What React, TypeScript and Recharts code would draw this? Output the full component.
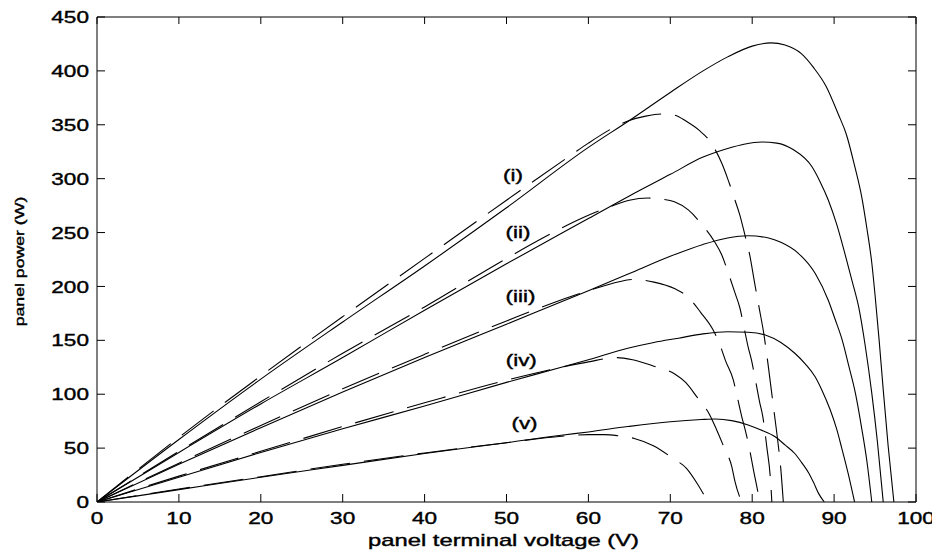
import React from 'react';
import { LineChart, Line, XAxis, YAxis, ReferenceDot, Label } from 'recharts';

// ---- data (panel terminal voltage V, panel power W) ----
const solidI: [number, number][] = [[0,0],[10,58],[20,114],[30,167],[40,219],[50,273],[60,329],[65,354],[70,380],[74,400],[77,413],[80,423],[82.3,426],[84,424],[86,416],[87.5,403],[89,386],[90.5,360],[91.5,341],[92.5,312],[93.4,282],[94,254],[94.6,222],[95,192],[95.5,150],[96,104],[96.6,52],[97.3,0]];
const solidII: [number, number][] = [[0,0],[10,46],[20,91],[30,134],[40,178],[50,221],[60,263],[65,284],[70,304],[74,320],[77,328],[79,332],[81.2,334],[83,333],[85,327],[87.3,311],[88.3,297],[89.3,280],[90.3,258],[91.3,231],[92.2,205],[93,181],[93.8,145],[94.6,101],[95.3,55],[96,0]];
const solidIII: [number, number][] = [[0,0],[10,35],[20,69],[30,102],[40,134],[50,165],[60,196],[65,212],[70,228],[74,239],[77,245],[79.5,247],[82,245],[83.5,241],[85.6,231],[87.7,212],[89.3,187],[90.1,170],[91,150],[91.8,126],[92.6,101],[93.4,67],[94,38],[94.6,0]];
const solidIV: [number, number][] = [[0,0],[10,23],[20,46],[30,68],[40,89],[50,111],[56.7,125],[60,132],[64.8,142.6],[68,148],[71,152],[74,156],[77,158],[79.5,157.5],[81.6,155],[83.5,148],[85.2,138],[86.5,128],[87.7,116],[88.5,104],[89.5,86],[90.3,68],[90.9,51],[91.7,27],[92.5,0]];
const solidV: [number, number][] = [[0,0],[10,11.5],[20,23],[30,34],[40,45],[50,55],[56.7,62],[60,65],[64.8,70],[70,74.5],[73.8,76.5],[75.5,77],[77.5,75.5],[79.5,71.5],[81,67],[82.8,60.5],[84,53],[85.2,45],[86,37],[86.9,27],[87.5,18],[88.1,8],[88.8,0]];

const dashedI: [number, number][] = [[0,0],[10,60],[20,117],[30,172],[40,226],[50,280],[57.9,322],[60,333],[63,347],[65,354],[67,358],[69,360],[70.5,359],[72,353],[73.5,345],[75,333],[76.3,314],[77.1,298],[77.9,280],[78.5,266],[79.1,248],[79.7,229],[80.3,203],[80.9,178],[81.4,157],[82,124],[82.6,88],[83.1,58],[83.5,30],[83.8,0]];
const dashedII: [number, number][] = [[0,0],[10,47],[20,93],[30,138],[40,181],[50,226],[54.2,244],[60,266],[63.2,275.5],[65,280],[67.3,282],[69,281],[70.5,278.5],[72.2,271],[73.8,258],[75.4,241.5],[76.3,229],[77.1,212],[77.9,194],[78.5,180],[79,162],[79.5,144],[79.9,132],[80.4,113],[80.9,93],[81.3,79],[81.8,50],[82.2,24],[82.4,0]];
const dashedIII: [number, number][] = [[0,0],[10,36],[20,71],[30,105],[40,137],[50,168],[55.4,184],[60,196],[63,203],[65.5,206.5],[68,204],[70.5,198],[72.2,190],[73.7,176],[75.2,160],[76,147],[76.8,130],[77.7,113],[78.1,100],[78.7,80],[79.3,62],[79.7,48],[80.2,28],[80.7,9],[80.9,0]];
const dashedIV: [number, number][] = [[0,0],[10,24],[20,47],[30,70],[40,92],[50,113],[56.7,125],[60,130],[63.5,134],[65.4,132],[68,126],[70.5,119],[71.9,110.7],[73.2,98],[74.8,81],[75.6,68],[76.6,50],[77.5,33],[77.9,19],[78.7,0]];
const dashedV: [number, number][] = [[0,0],[10,12],[20,23.5],[30,35],[40,45.5],[50,55],[56.7,61],[60,62.5],[62,62.5],[63.6,61.5],[65.6,59],[68,52],[70.3,40.5],[72,31],[73.3,17],[74.6,0]];

const xTicks = [0, 10, 20, 30, 40, 50, 60, 70, 80, 90, 100];
const yTicks = [0, 50, 100, 150, 200, 250, 300, 350, 400, 450];

const curveLabels = ['(i)', '(ii)', '(iii)', '(iv)', '(v)'];
const labelV = [50.8, 51.4, 51.7, 51.8, 52.2];
const labelP = [303, 250.7, 190.5, 131.7, 73];

const solidSeries = [solidI, solidII, solidIII, solidIV, solidV];
const dashedSeries = [dashedI, dashedII, dashedIII, dashedIV, dashedV];

const toPts = (arr: [number, number][]) => arr.map(([v, p]) => ({ v, p }));

const FONT = '"Liberation Sans", Arial, Helvetica, sans-serif';

function STxt({ x, y, sx, children, anchor = 'middle', size = 17, rotate = 0, dy = '0.36em' }: any) {
  return (
    <text
      transform={`translate(${x},${y}) rotate(${rotate}) scale(${sx},1)`}
      x={0}
      y={0}
      dy={dy}
      textAnchor={anchor}
      fontSize={size}
      fontFamily={FONT}
      fill="#000"
      stroke="#000"
      strokeWidth={0.4}
    >
      {children}
    </text>
  );
}

const XTick = (props: any) => {
  const { x, y, payload } = props;
  return (
    <g>
      <line x1={x} y1={y} x2={x} y2={y - 8} stroke="#000" strokeWidth={1} />
      <STxt x={x} y={y + 16} sx={1.33}>{payload.value}</STxt>
    </g>
  );
};

const YTick = (props: any) => {
  const { x, y, payload } = props;
  return (
    <g>
      <line x1={x} y1={y} x2={x + 8} y2={y} stroke="#000" strokeWidth={1} />
      <STxt x={x - 8} y={y} sx={1.33} anchor="end">{payload.value}</STxt>
    </g>
  );
};

// inward tick for the top axis (props.y is the axis line)
const TopTick = (props: any) => {
  const { x, y } = props;
  return <line x1={x} y1={y} x2={x} y2={y + 7} stroke="#000" strokeWidth={1} />;
};
// inward tick for the right axis (props.x is the axis line)
const RightTick = (props: any) => {
  const { x, y } = props;
  return <line x1={x} y1={y} x2={x - 8} y2={y} stroke="#000" strokeWidth={1} />;
};

export default function App() {
  return (
    <LineChart width={932} height={547} margin={{ top: 8, right: 23, bottom: 13, left: 0 }}>
      <XAxis
        xAxisId="b"
        dataKey="v"
        type="number"
        domain={[0, 100]}
        ticks={xTicks}
        allowDataOverflow
        height={40}
        tickSize={0}
        tickMargin={0}
        tickLine={false}
        tick={<XTick />}
        axisLine={{ stroke: '#000', strokeWidth: 1 }}
        interval={0}
      >
        <Label
          content={(p: any) => {
            const vb = p.viewBox;
            return (
              <STxt x={vb.x + vb.width / 2 - 3} y={vb.y + 44} sx={1.4} dy="0">
                panel terminal voltage (V)
              </STxt>
            );
          }}
        />
      </XAxis>
      <XAxis
        xAxisId="t"
        dataKey="v"
        orientation="top"
        type="number"
        domain={[0, 100]}
        ticks={xTicks}
        allowDataOverflow
        height={1}
        tickSize={0}
        tickMargin={0}
        tickLine={false}
        tick={<TopTick />}
        axisLine={{ stroke: '#000', strokeWidth: 1 }}
        interval={0}
      />
      <YAxis
        yAxisId="l"
        type="number"
        domain={[0, 450]}
        ticks={yTicks}
        allowDataOverflow
        width={89}
        tickSize={0}
        tickMargin={0}
        tickLine={false}
        tick={<YTick />}
        axisLine={{ stroke: '#000', strokeWidth: 1 }}
        interval={0}
      >
        <Label
          content={(p: any) => {
            const vb = p.viewBox;
            return (
              <STxt x={vb.x + 11} y={vb.y + vb.height / 2 + 2} sx={1.36} size={13} rotate={-90}>
                panel power (W)
              </STxt>
            );
          }}
        />
      </YAxis>
      <YAxis
        yAxisId="r"
        orientation="right"
        type="number"
        domain={[0, 450]}
        ticks={yTicks}
        allowDataOverflow
        width={1}
        tickSize={0}
        tickMargin={0}
        tickLine={false}
        tick={<RightTick />}
        axisLine={{ stroke: '#000', strokeWidth: 1 }}
        interval={0}
      />
      {solidSeries.map((s, i) => (
        <Line
          key={'s' + i}
          xAxisId="b"
          yAxisId="l"
          data={toPts(s)}
          dataKey="p"
          type="monotone"
          stroke="#000"
          strokeWidth={1.1}
          dot={false}
          activeDot={false}
          isAnimationActive={false}
        />
      ))}
      {dashedSeries.map((s, i) => (
        <Line
          key={'d' + i}
          xAxisId="t"
          yAxisId="r"
          data={toPts(s)}
          dataKey="p"
          type="monotone"
          stroke="#000"
          strokeWidth={1.1}
          strokeDasharray="40 14"
          dot={false}
          activeDot={false}
          isAnimationActive={false}
        />
      ))}
      {curveLabels.map((t, i) => (
        <ReferenceDot
          key={'lab' + i}
          xAxisId="b"
          yAxisId="l"
          x={labelV[i]}
          y={labelP[i]}
          r={0}
          fill="none"
          stroke="none"
          ifOverflow="visible"
          label={(p: any) => {
            const vb = p.viewBox;
            return (
              <STxt x={vb.x} y={vb.y} sx={1.4} size={16}>
                {t}
              </STxt>
            );
          }}
        />
      ))}
    </LineChart>
  );
}
